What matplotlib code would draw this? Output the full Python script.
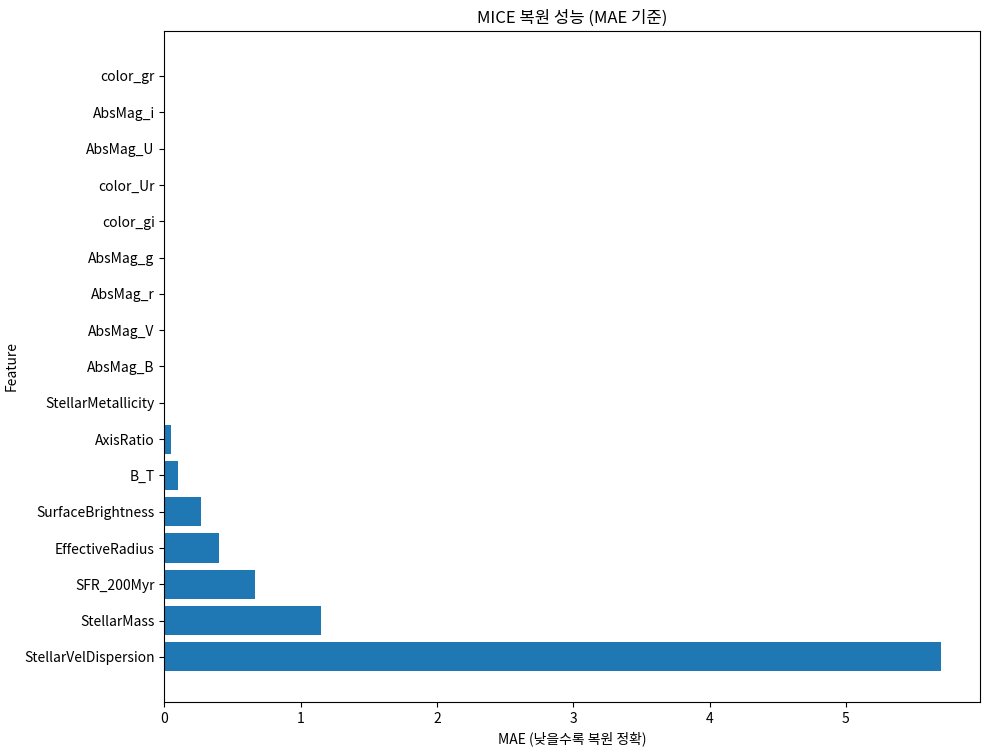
import matplotlib
matplotlib.use('Agg')
import matplotlib.pyplot as plt

plt.rcParams['font.family'] = ['Noto Sans CJK KR', 'DejaVu Sans']
plt.rcParams['axes.unicode_minus'] = False

# MAE per feature (bottom to top)
features = ['StellarVelDispersion', 'StellarMass', 'SFR_200Myr', 'EffectiveRadius',
            'SurfaceBrightness', 'B_T', 'AxisRatio', 'StellarMetallicity',
            'AbsMag_B', 'AbsMag_V', 'AbsMag_r', 'AbsMag_g', 'color_gi',
            'color_Ur', 'AbsMag_U', 'AbsMag_i', 'color_gr']
mae = [5.70, 1.15, 0.667, 0.403, 0.271, 0.103, 0.051, 0.001,
       0.0005, 0.0004, 0.0003, 0.0003, 0.0002, 0.0002, 0.0001, 0.0001, 0.0001]

fig, ax = plt.subplots(figsize=(9.9, 7.54), dpi=100)
fig.subplots_adjust(left=0.166, right=0.99, top=0.959, bottom=0.069)

ax.barh(features, mae, color='#1f77b4')
ax.set_title('MICE 복원 성능 (MAE 기준)')
ax.set_xlabel('MAE (낮을수록 복원 정확)')
ax.set_ylabel('Feature')

fig.savefig('out.png')
